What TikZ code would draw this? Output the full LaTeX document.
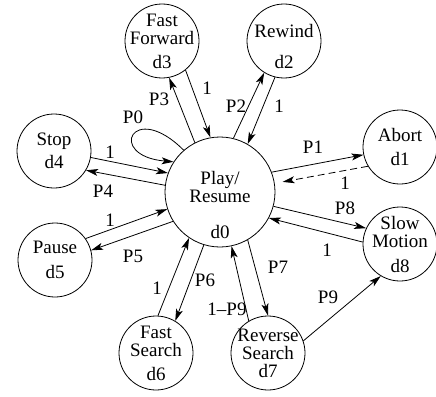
\documentclass[tikz,border=0pt]{standalone}
\usepackage{fontspec}
\setmainfont{Liberation Serif}
\usetikzlibrary{arrows.meta}

\begin{document}
\begin{tikzpicture}[x=1pt, y=-1pt, line width=0.8pt,
    font=\fontsize{19}{18}\selectfont,
    state/.style={draw, circle, minimum size=74pt, inner sep=-14pt, align=center},
    flow/.style={-{Stealth[length=12pt, width=7pt, inset=3pt]}},
    lbl/.style={inner sep=1pt}]
    \useasboundingbox (0,0) rectangle (436,396);
    \node[state, minimum size=110pt,
      label={[align=center, yshift=-13pt]center:Play/\\Resume\\[18pt]d0}] (d0) at (220,192) {};
    \node[state] (d3) at (162,41) {Fast\\Forward\\[6pt]d3};
    \node[state, label={[align=center, yshift=-6pt]center:Rewind\\[13pt]d2}] (d2) at (284,41) {};
    \node[state] (d1) at (400,147) {Abort\\[6pt]d1};
    \node[state] (d4) at (54,151) {Stop\\[5pt]d4};
    \node[state] (d5) at (55,260) {Pause\\[7pt]d5};
    \node[state] (d6) at (156,353) {Fast\\Search\\[6pt]d6};
    \node[state] (d7) at (268,353) {Reverse\\Search\\d7};
    \node[state] (d8) at (400,244) {Slow\\Motion\\[7pt]d8};

    \draw[flow] (d0.131) .. controls +(135:72pt) and +(175:68pt) .. (d0.147);
    \draw[flow] (d0.117) -- (d3.-79);
    \draw[flow] (d3.-51) -- (d0.100);
    \draw[flow] (d0.76) -- (d2.-122);
    \draw[flow] (d2.-104) -- (d0.60);
    \draw[flow] (d0.21) -- (d1.192);
    \draw[flow, dash pattern=on 7pt off 4pt, shorten >=8pt] (d1.211) -- (d0.9);
    \draw[flow] (d4.-10) -- (d0.160);
    \draw[flow] (d0.173) -- (d4.-31);
    \draw[flow] (d5.35) -- (d0.198);
    \draw[flow] (d0.212) -- (d5.15);
    \draw[flow] (d6.87) -- (d0.236);
    \draw[flow] (d0.253) -- (d6.59);
    \draw[flow] (d0.300) -- (d7.90);
    \draw[flow] (d7.121) -- (d0.282);
    \draw[flow] (d0.-15) -- (d8.155);
    \draw[flow] (d8.177) -- (d0.-28);
    \draw[flow] (d7.19) -- (d8.239);

    \node[lbl] (p0) at (133,117) {P0};
    \node[lbl] (p3) at (159,99) {P3};
    \node[lbl] (o3) at (207,88) {1};
    \node[lbl] (p2) at (236,106) {P2};
    \node[lbl] (o2) at (279,106) {1};
    \node[lbl] (p1) at (313,147) {P1};
    \node[lbl] (o1) at (345,183) {1};
    \node[lbl] (o4) at (110,152) {1};
    \node[lbl] (p4) at (103,191) {P4};
    \node[lbl] (o5) at (110,220) {1};
    \node[lbl] (p5) at (133,256) {P5};
    \node[lbl] (o6) at (157,288) {1};
    \node[lbl] (p6) at (205,280) {P6};
    \node[lbl] (p7) at (278,267) {P7};
    \node[lbl] (o7) at (227,309) {1--P9};
    \node[lbl] (p8) at (345,208) {P8};
    \node[lbl] (o8) at (327,250) {1};
    \node[lbl] (p9) at (328,297) {P9};
  \end{tikzpicture}
\end{document}
